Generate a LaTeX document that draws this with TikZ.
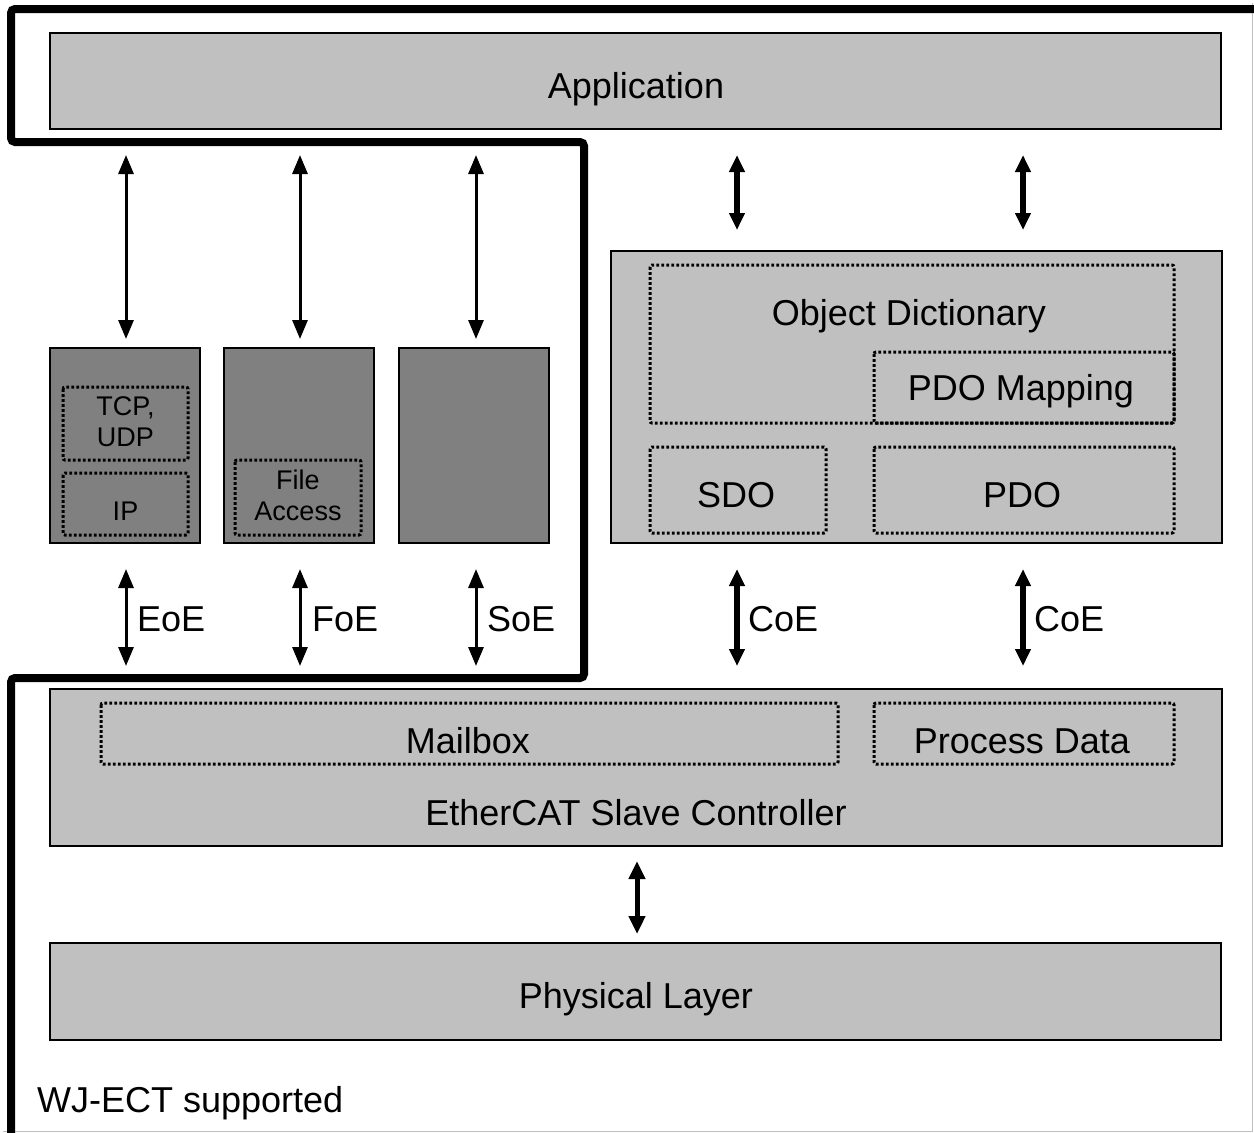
\documentclass[tikz,border=0pt]{standalone}
\usepackage{fontspec}
\setmainfont{Liberation Sans}
\usetikzlibrary{arrows.meta}
\begin{document}
\begin{tikzpicture}[x=1pt,y=-1pt,
  box/.style={draw=black,line width=2.5pt,fill=boxgray,inner sep=0pt,outer sep=0pt},
  dbox/.style={draw=black,line width=2.5pt,fill=darkgray80,inner sep=0pt,outer sep=0pt},
  dots/.style={draw=black,line width=3pt,dash pattern=on 2.8pt off 2.2pt,rounded corners=2pt,inner sep=0pt,outer sep=0pt},
  big/.style={font=\fontsize{36}{40}\selectfont},
  small/.style={font=\fontsize{27}{31}\selectfont},
  thinarr/.style={line width=3pt,{Triangle[length=19pt,width=15pt]}-{Triangle[length=19pt,width=15pt]}},
  midarr/.style={line width=5pt,{Triangle[length=18pt,width=16pt]}-{Triangle[length=18pt,width=16pt]}},
  thickarr/.style={line width=6.5pt,{Triangle[length=17pt,width=15pt]}-{Triangle[length=17pt,width=15pt]}},
  lbl/.style={big,anchor=west,inner sep=0pt}
]
\definecolor{boxgray}{HTML}{C0C0C0}
\definecolor{darkgray80}{HTML}{808080}
\useasboundingbox (0,0) rectangle (1254,1133);
\fill[white] (0,0) rectangle (1254,1133);
\draw[gray!50,line width=1.5pt] (1252.5,3) -- (1252.5,1131.5) -- (3,1131.5);

% thick supported outline
\draw[line width=8pt,rounded corners=4pt]
  (1262,9) -- (11,9) -- (11,142) -- (584,142) -- (584,678) -- (11,678) -- (11,1145);

% Application
\node[box,minimum width=1171pt,minimum height=96pt] (app) at (635.5,81) {};
\node[big] (apptxt) at (636,89) {Application};

% dark boxes
\node[dbox,minimum width=150pt,minimum height=195pt] (eoebox) at (125,445.5) {};
\node[dbox,minimum width=150pt,minimum height=195pt] (foebox) at (299,445.5) {};
\node[dbox,minimum width=150pt,minimum height=195pt] (soebox) at (474,445.5) {};
\draw[dots] (63,387) rectangle (188,460);
\draw[dots] (63,473) rectangle (188,535);
\draw[dots] (235,460) rectangle (361,535);
\node[small,align=center,inner sep=0pt] (tcp) at (125.5,422) {TCP,\\UDP};
\node[small,inner sep=0pt] (ip) at (125.5,511) {IP};
\node[small,align=center,inner sep=0pt] (fa) at (298,495) {File\\Access};

% CoE block
\node[box,minimum width=611pt,minimum height=292pt] (coebox) at (916.5,397) {};
\draw[dots] (650,265) rectangle (1174,423);
\draw[dots] (874,352) rectangle (1174,423);
\draw[dots] (650,447) rectangle (826,533);
\draw[dots] (874,447) rectangle (1174,533);
\node[big] (od) at (909,316) {Object Dictionary};
\node[big] (pdom) at (1021,391) {PDO Mapping};
\node[big] (sdo) at (736,495) {SDO};
\node[big] (pdo) at (1022,495) {PDO};

% ESC
\node[box,minimum width=1172pt,minimum height=157pt] (escbox) at (636,767.5) {};
\draw[dots] (101,703) rectangle (838,764);
\draw[dots] (874,703) rectangle (1174,764);
\node[big] (mb) at (468,741) {Mailbox};
\node[big] (pd) at (1022,741) {Process Data};
\node[big] (esc) at (636,813) {EtherCAT Slave Controller};

% Physical layer
\node[box,minimum width=1171pt,minimum height=97pt] (phybox) at (635.5,991.5) {};
\node[big] (phy) at (636,999) {Physical Layer};

\node[big,anchor=west,inner sep=0pt] (wj) at (37,1103) {WJ-ECT supported};

% arrow coordinates
\coordinate (a1t) at (126,155); \coordinate (a1b) at (126,339);
\coordinate (a2t) at (300,155); \coordinate (a2b) at (300,339);
\coordinate (a3t) at (476,155); \coordinate (a3b) at (476,339);
\coordinate (b1t) at (126,569); \coordinate (b1b) at (126,666);
\coordinate (b2t) at (300,569); \coordinate (b2b) at (300,666);
\coordinate (b3t) at (476,569); \coordinate (b3b) at (476,666);
\coordinate (c1t) at (737,155); \coordinate (c1b) at (737,230);
\coordinate (c2t) at (1023,155); \coordinate (c2b) at (1023,230);
\coordinate (d1t) at (737,569); \coordinate (d1b) at (737,666);
\coordinate (d2t) at (1023,569); \coordinate (d2b) at (1023,666);
\coordinate (et) at (637,861); \coordinate (eb) at (637,934);

\draw[thinarr] (a1t) -- (a1b);
\draw[thinarr] (a2t) -- (a2b);
\draw[thinarr] (a3t) -- (a3b);
\draw[thinarr] (b1t) -- (b1b);
\draw[thinarr] (b2t) -- (b2b);
\draw[thinarr] (b3t) -- (b3b);
\draw[thickarr] (c1t) -- (c1b);
\draw[thickarr] (c2t) -- (c2b);
\draw[thickarr] (d1t) -- (d1b);
\draw[thickarr] (d2t) -- (d2b);
\draw[midarr] (et) -- (eb);

\node[lbl] (eoe) at (137,619) {EoE};
\node[lbl] (foe) at (312,619) {FoE};
\node[lbl] (soe) at (487,619) {SoE};
\node[lbl] (coe1) at (748,619) {CoE};
\node[lbl] (coe2) at (1034,619) {CoE};
\end{tikzpicture}
\end{document}
